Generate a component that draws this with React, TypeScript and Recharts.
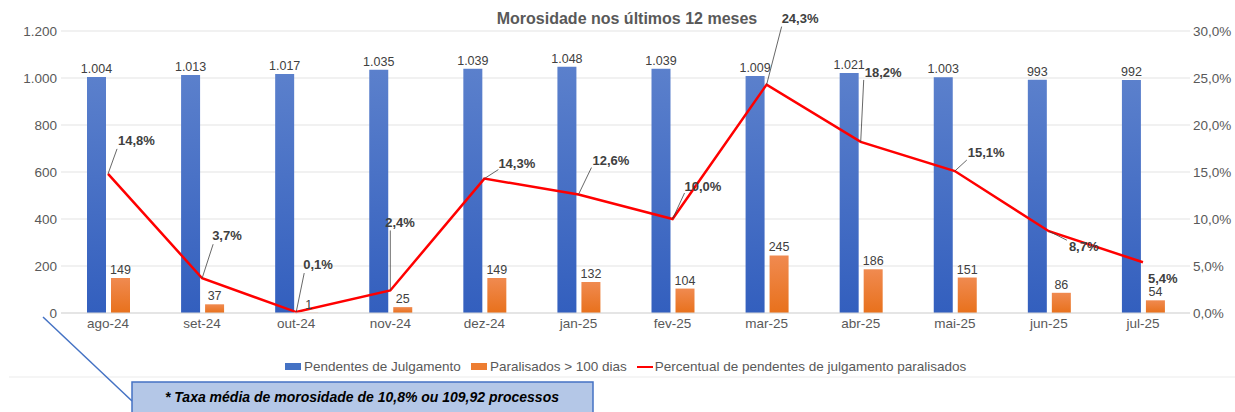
import React from 'react';
import {
  ComposedChart,
  Bar,
  Line,
  XAxis,
  YAxis,
  CartesianGrid,
  LabelList,
} from 'recharts';

const months = ['ago-24', 'set-24', 'out-24', 'nov-24', 'dez-24', 'jan-25', 'fev-25', 'mar-25', 'abr-25', 'mai-25', 'jun-25', 'jul-25'];
const pendentes = [1004, 1013, 1017, 1035, 1039, 1048, 1039, 1009, 1021, 1003, 993, 992];
const paralisados = [149, 37, 1, 25, 149, 132, 104, 245, 186, 151, 86, 54];
const percentual = [14.8, 3.7, 0.1, 2.4, 14.3, 12.6, 10.0, 24.3, 18.2, 15.1, 8.7, 5.4];
const leftTicks = [0, 200, 400, 600, 800, 1000, 1200];
const rightTicks = [0, 5, 10, 15, 20, 25, 30];

// where each percent label sits relative to its point, and where its leader line ends
const pctLabelPos = [
  { dx: 10, dy: -29, lx: 9, ly: -25 },
  { dx: 10, dy: -38, lx: 11, ly: -34 },
  { dx: 7, dy: -43, lx: 8, ly: -39 },
  { dx: -5, dy: -63, lx: 0, ly: -60 },
  { dx: 14, dy: -11, lx: 14, ly: -9 },
  { dx: 14, dy: -30, lx: 13, ly: -27 },
  { dx: 12, dy: -28, lx: 12, ly: -26 },
  { dx: 15, dy: -62, lx: 15, ly: -58 },
  { dx: 4, dy: -65, lx: 3, ly: -62 },
  { dx: 13, dy: -14, lx: 12, ly: -11 },
  { dx: 20, dy: 20, lx: 18, ly: 9 },
  { dx: 5, dy: 21, lx: 0, ly: 0 },
];

const data = months.map((m, i) => ({
  month: m,
  pendentes: pendentes[i],
  paralisados: paralisados[i],
  percentual: percentual[i],
}));

const FONT = '"Liberation Sans", Arial, sans-serif';

const fmtThousands = (v: number) => String(v).replace(/\B(?=(\d{3})+(?!\d))/g, '.');
const fmtPct = (v: number) => `${v.toFixed(1).replace('.', ',')}%`;

const PctLabel = (props: any) => {
  const { x, y, value, index } = props;
  const p = pctLabelPos[index];
  return (
    <g>
      {(p.lx !== 0 || p.ly !== 0) && (
        <line x1={x} y1={y} x2={x + p.lx} y2={y + p.ly} stroke="#404040" strokeWidth={0.8} />
      )}
      <text x={x + p.dx} y={y + p.dy} fill="#404040" fontSize={13} fontWeight="bold" fontFamily={FONT}>
        {fmtPct(value)}
      </text>
    </g>
  );
};

const ChartLegend = () => (
  <div
    style={{
      position: 'absolute',
      left: 285,
      top: 359,
      display: 'flex',
      alignItems: 'center',
      whiteSpace: 'nowrap',
      fontFamily: FONT,
      fontSize: 13.5,
      color: '#595959',
    }}
  >
    <span style={{ display: 'inline-block', width: 16, height: 7, background: '#4472C4', marginRight: 3 }} />
    <span style={{ marginRight: 10 }}>Pendentes de Julgamento</span>
    <span style={{ display: 'inline-block', width: 16, height: 7, background: '#ED7D31', marginRight: 3 }} />
    <span style={{ marginRight: 10 }}>Paralisados &gt; 100 dias</span>
    <span style={{ display: 'inline-block', width: 16, height: 2, background: '#FF0000', marginRight: 2 }} />
    <span>Percentual de pendentes de julgamento paralisados</span>
  </div>
);

export default function App() {
  return (
    <div style={{ position: 'absolute', left: 0, top: 0, width: 1235, height: 412, background: '#fff', overflow: 'hidden' }}>
      <div
        style={{
          position: 'absolute',
          left: 0,
          width: 1254,
          top: 10,
          textAlign: 'center',
          fontFamily: FONT,
          fontSize: 16,
          fontWeight: 'bold',
          color: '#595959',
        }}
      >
        Morosidade nos últimos 12 meses
      </div>
      <ComposedChart
        width={1235}
        height={412}
        data={data}
        margin={{ top: 31, right: 0, bottom: 69, left: 0 }}
        barGap={5}
        barSize={19}
      >
        <defs>
          <linearGradient id="gBlue" x1="0" y1="0" x2="0" y2="1">
            <stop offset="0%" stopColor="#5B80CC" />
            <stop offset="100%" stopColor="#335FBE" />
          </linearGradient>
          <linearGradient id="gOrange" x1="0" y1="0" x2="0" y2="1">
            <stop offset="0%" stopColor="#F08A50" />
            <stop offset="100%" stopColor="#E8711C" />
          </linearGradient>
        </defs>
        <CartesianGrid vertical={false} stroke="#E3E3E3" yAxisId="left" />
        <XAxis
          dataKey="month"
          height={30}
          axisLine={{ stroke: '#D9D9D9' }}
          tickLine={false}
          tickSize={0}
          tickMargin={5}
          tick={{ fill: '#595959', fontSize: 13.5, fontFamily: FONT }}
          interval={0}
        />
        <YAxis
          yAxisId="left"
          width={61}
          domain={[0, 1200]}
          ticks={leftTicks}
          axisLine={false}
          tickLine={false}
          tickSize={0}
          tickMargin={4}
          tickFormatter={fmtThousands}
          tick={{ fill: '#595959', fontSize: 13.5, fontFamily: FONT }}
        />
        <YAxis
          yAxisId="right"
          orientation="right"
          width={45}
          domain={[0, 30]}
          ticks={rightTicks}
          axisLine={false}
          tickLine={false}
          tickSize={0}
          tickMargin={3}
          tickFormatter={(v: number) => fmtPct(v)}
          tick={{ fill: '#595959', fontSize: 13.5, fontFamily: FONT, textAnchor: 'start' }}
        />
        <Bar yAxisId="left" dataKey="pendentes" name="Pendentes de Julgamento" fill="url(#gBlue)" isAnimationActive={false}>
          <LabelList
            dataKey="pendentes"
            position="top"
            offset={4}
            formatter={(v: any) => fmtThousands(Number(v))}
            style={{ fill: '#404040', fontSize: 12.5, fontFamily: FONT }}
          />
        </Bar>
        <Bar yAxisId="left" dataKey="paralisados" name="Paralisados > 100 dias" fill="url(#gOrange)" isAnimationActive={false}>
          <LabelList
            dataKey="paralisados"
            position="top"
            offset={4}
            style={{ fill: '#404040', fontSize: 12.5, fontFamily: FONT }}
          />
        </Bar>
        <Line
          yAxisId="right"
          dataKey="percentual"
          name="Percentual de pendentes de julgamento paralisados"
          stroke="#FF0000"
          strokeWidth={2.5}
          dot={false}
          activeDot={false}
          isAnimationActive={false}
        >
          <LabelList dataKey="percentual" content={PctLabel} />
        </Line>
      </ComposedChart>
      <ChartLegend />
      <svg width={1235} height={412} style={{ position: 'absolute', left: 0, top: 0, pointerEvents: 'none' }}>
        <line x1={9} y1={377} x2={1235} y2={377} stroke="#EBEBEB" strokeWidth={1} />
        <line x1={43} y1={317} x2={132} y2={401} stroke="#4472C4" strokeWidth={1.5} />
        <rect x={132} y={382} width={461} height={40} fill="#B4C7E7" stroke="#4472C4" strokeWidth={1.5} />
        <text
          x={362}
          y={402}
          textAnchor="middle"
          fontFamily={FONT}
          fontSize={14}
          fontWeight="bold"
          fontStyle="italic"
          fill="#000"
        >
          * Taxa média de morosidade de 10,8% ou 109,92 processos
        </text>
      </svg>
    </div>
  );
}
